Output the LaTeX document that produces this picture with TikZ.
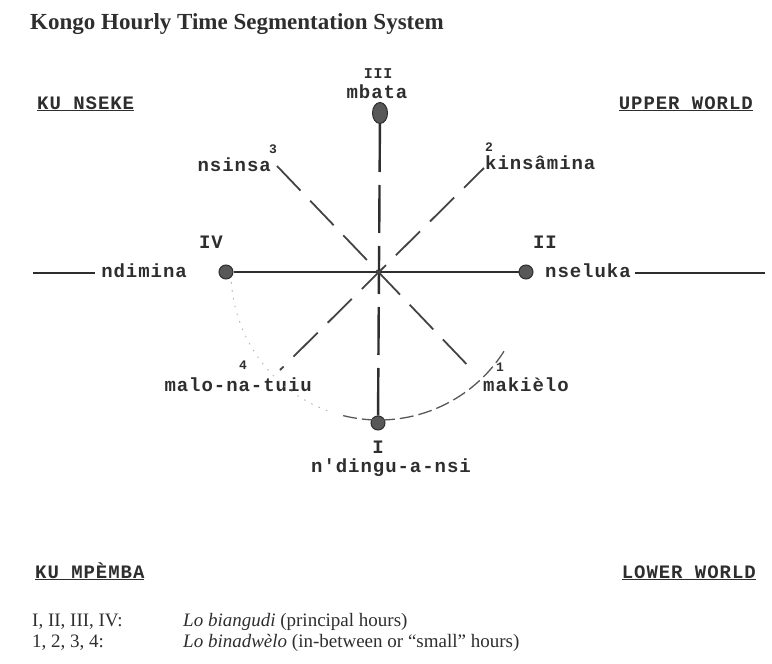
\documentclass[tikz,border=0pt]{standalone}
\usepackage{fontspec}
\setmainfont{Liberation Serif}
\setmonofont{Liberation Mono}[LetterSpace=5]
\usetikzlibrary{positioning,shapes.geometric}
\definecolor{ink}{HTML}{2E2E2E}

\begin{document}
\begin{tikzpicture}[
  x=1pt, y=1pt,
  text=ink,
  tt/.style={inner sep=0pt, font=\fontsize{19}{20}\selectfont\ttfamily\bfseries},
  numeral/.style={inner sep=0pt, font=\fontsize{13}{14}\selectfont\ttfamily\bfseries},
  world/.style={tt, anchor=base west},
  hour/.style={circle, fill=ink!80, draw=ink, line width=1pt, minimum size=14pt, inner sep=0pt},
  axis/.style={draw=ink, line width=2.4pt},
  spoke/.style={draw=ink!90, line width=1.8pt, dash pattern=on 34pt off 14pt},
  legend/.style={inner sep=0pt, anchor=base west, font=\fontsize{19}{20}\selectfont\rmfamily}
]
\useasboundingbox (0,0) rectangle (772,-664);

% title
\node[inner sep=0pt, anchor=base west, font=\fontsize{23}{26}\selectfont\rmfamily\bfseries]
  (title) at (30,-29) {Kongo Hourly Time Segmentation System};

% the four worlds
\node[world] (nseke) at (37,-109) {\underline{KU NSEKE}};
\node[world, anchor=base east] (upper) at (753,-109) {\underline{UPPER WORLD}};
\node[world] (mpemba) at (35,-578) {\underline{KU MPÈMBA}};
\node[world, anchor=base east] (lower) at (756,-578) {\underline{LOWER WORLD}};

% principal hours
\coordinate (c) at (379,-272);
\node[hour, ellipse, minimum width=15pt, minimum height=21pt] (dIII) at (380,-113) {};
\node[hour] (dII) at (526,-272) {};
\node[hour] (dIV) at (226,-272) {};
\node[hour] (dI) at (378,-423) {};

\node[tt, anchor=base] (mbata) at (377,-98) {mbata};
\node[tt, font=\fontsize{15}{15}\selectfont\ttfamily\bfseries, anchor=base] (nIII) at (378,-78) {III};
\node[tt, anchor=base] (nII) at (545,-248) {II};
\node[tt, anchor=base] (nIV) at (211,-248) {IV};
\node[tt, anchor=base] (nI) at (378,-453) {I};
\node[tt, anchor=base] (ndingu) at (391,-472) {n'dingu-a-nsi};
\node[tt, anchor=base east] (ndimina) at (187,-277) {ndimina};
\node[tt, anchor=base west] (nseluka) at (545,-277) {nseluka};
\coordinate (stubL) at (33,-273);
\coordinate (stubR) at (765,-273);

% small hours
\coordinate (s3) at (277,-166);
\coordinate (s1) at (475,-373);
\coordinate (s2) at (484,-168);
\coordinate (s4) at (280,-370);
\node[tt, anchor=base east] (nsinsa) at (271,-171) {nsinsa};
\node[numeral] (n3) at (273,-149) {3};
\node[tt, anchor=base west] (kinsamina) at (485,-169) {kinsâmina};
\node[numeral] (n2) at (489,-147) {2};
\node[tt, anchor=base east] (malo) at (312,-391) {malo-na-tuiu};
\node[numeral] (n4) at (243,-365) {4};
\node[tt, anchor=base west] (makielo) at (483,-391) {makièlo};
\node[numeral] (n1) at (500,-367) {1};

% axes
\draw[axis] (dIV) -- (dII);
\draw[axis, line width=1.6pt] (stubL) -- ([xshift=-6pt]ndimina.west |- stubL);
\draw[axis, line width=1.6pt] ([xshift=4pt]nseluka.east |- stubR) -- (stubR);
\draw[axis, dash pattern=on 48pt off 13pt] (dIII) -- (dI);
\draw[spoke] (s3) -- (s1);
\draw[spoke, dash phase=6pt] (s2) -- (s4);

% arc under the lower world
\draw[draw=ink!80, line width=1.3pt, dash pattern=on 14pt off 5pt]
  ([shift={(256:148)}]c) arc[start angle=256, end angle=329, radius=148];
\draw[draw=ink!35, line width=1pt, dash pattern=on 1pt off 7pt, line cap=round]
  ([shift={(184:148)}]c) arc[start angle=184, end angle=252, radius=148];

% legend
\node[legend] (keyA) at (32,-626) {I, II, III, IV:};
\node[legend] (textA) at (183,-626) {\textit{Lo biangudi} (principal hours)};
\node[legend] (keyB) at (32,-647) {1, 2, 3, 4:};
\node[legend] (textB) at (183,-647) {\textit{Lo binadwèlo} (in-between or “small” hours)};
\end{tikzpicture}
\end{document}
